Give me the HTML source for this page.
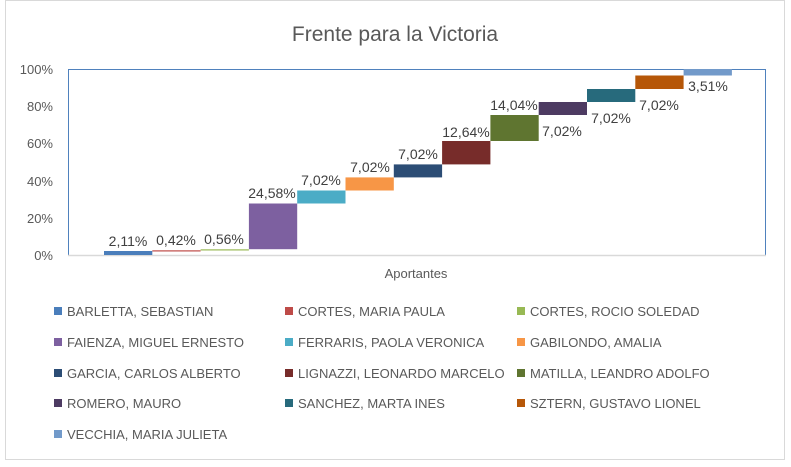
<!DOCTYPE html>
<html><head><meta charset="utf-8"><style>
html,body{margin:0;padding:0;background:#fff}
svg text{font-family:"Liberation Sans",sans-serif;fill:#595959}
svg .lab text{fill:#404040}
</style></head><body>
<svg width="791" height="462" viewBox="0 0 791 462" xmlns="http://www.w3.org/2000/svg">
<rect x="5.5" y="0.5" width="779" height="459" fill="#fff" stroke="#d9d9d9"/>
<text x="395" y="41" font-size="21" text-anchor="middle">Frente para la Victoria</text>
<g font-size="13" text-anchor="end">
<text x="53" y="260">0%</text><text x="53" y="223">20%</text><text x="53" y="186">40%</text>
<text x="53" y="148">60%</text><text x="53" y="111">80%</text><text x="53" y="74">100%</text>
</g>
<rect x="68.5" y="69.5" width="697" height="186" fill="none" stroke="#4f81bd" stroke-width="1"/>
<line x1="68" y1="255.5" x2="766" y2="255.5" stroke="#d9d9d9" stroke-width="1.5"/>
<g>
<rect x="104" y="251" width="48.3" height="4" fill="#4a7ebb"/>
<rect x="152.3" y="250.3" width="48.3" height="1.2" fill="#be4b48"/>
<rect x="200.6" y="249.3" width="48.3" height="1.2" fill="#98b954"/>
<rect x="248.9" y="203.5" width="48.3" height="45.7" fill="#7d60a0"/>
<rect x="297.2" y="190.5" width="48.3" height="13" fill="#4bacc6"/>
<rect x="345.5" y="177.4" width="48.3" height="13.1" fill="#f79646"/>
<rect x="393.8" y="164.4" width="48.3" height="13" fill="#2c4d75"/>
<rect x="442.1" y="141" width="48.3" height="23.4" fill="#772c2a"/>
<rect x="490.4" y="115" width="48.3" height="26" fill="#5f7530"/>
<rect x="538.7" y="102" width="48.3" height="13" fill="#4d3b62"/>
<rect x="587" y="89" width="48.3" height="13" fill="#276a7c"/>
<rect x="635.3" y="75.5" width="48.3" height="13.5" fill="#b65708"/>
<rect x="683.6" y="69" width="48.3" height="6.5" fill="#729aca"/>
</g>
<g class="lab" font-size="14" text-anchor="middle">
<text x="128" y="246">2,11%</text>
<text x="176" y="245">0,42%</text>
<text x="224" y="244">0,56%</text>
<text x="272" y="198">24,58%</text>
<text x="321" y="185">7,02%</text>
<text x="370" y="172">7,02%</text>
<text x="418" y="159">7,02%</text>
<text x="466" y="137">12,64%</text>
<text x="514" y="110">14,04%</text>
<text x="562" y="136">7,02%</text>
<text x="611" y="123">7,02%</text>
<text x="659" y="110">7,02%</text>
<text x="708" y="91">3,51%</text>
</g>
<text x="416" y="278" font-size="13" text-anchor="middle">Aportantes</text>
<g font-size="13">
<rect x="54" y="307" width="8" height="8" fill="#4a7ebb"/><text x="67" y="316">BARLETTA, SEBASTIAN</text>
<rect x="285" y="307" width="8" height="8" fill="#be4b48"/><text x="298" y="316">CORTES, MARIA PAULA</text>
<rect x="517" y="307" width="8" height="8" fill="#98b954"/><text x="530" y="316">CORTES, ROCIO SOLEDAD</text>
<rect x="54" y="338" width="8" height="8" fill="#7d60a0"/><text x="67" y="347">FAIENZA, MIGUEL ERNESTO</text>
<rect x="285" y="338" width="8" height="8" fill="#4bacc6"/><text x="298" y="347">FERRARIS, PAOLA VERONICA</text>
<rect x="517" y="338" width="8" height="8" fill="#f79646"/><text x="530" y="347">GABILONDO, AMALIA</text>
<rect x="54" y="369" width="8" height="8" fill="#2c4d75"/><text x="67" y="378">GARCIA, CARLOS ALBERTO</text>
<rect x="285" y="369" width="8" height="8" fill="#772c2a"/><text x="298" y="378">LIGNAZZI, LEONARDO MARCELO</text>
<rect x="517" y="369" width="8" height="8" fill="#5f7530"/><text x="530" y="378">MATILLA, LEANDRO ADOLFO</text>
<rect x="54" y="399" width="8" height="8" fill="#4d3b62"/><text x="67" y="408">ROMERO, MAURO</text>
<rect x="285" y="399" width="8" height="8" fill="#276a7c"/><text x="298" y="408">SANCHEZ, MARTA INES</text>
<rect x="517" y="399" width="8" height="8" fill="#b65708"/><text x="530" y="408">SZTERN, GUSTAVO LIONEL</text>
<rect x="54" y="430" width="8" height="8" fill="#729aca"/><text x="67" y="439">VECCHIA, MARIA JULIETA</text>
</g>
</svg>
</body></html>
